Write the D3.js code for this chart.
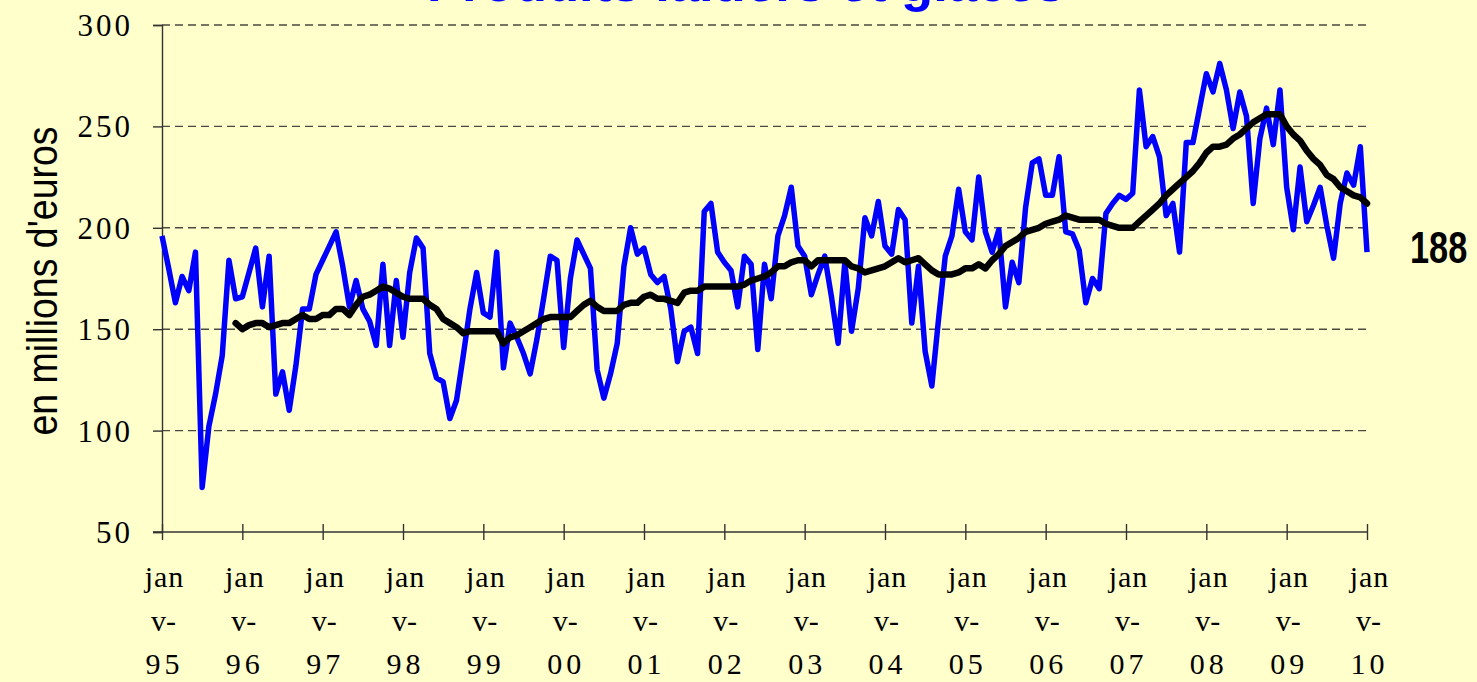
<!DOCTYPE html>
<html>
<head>
<meta charset="utf-8">
<script src="https://cdn.jsdelivr.net/npm/d3@7/dist/d3.min.js"></script>
<style>
  body { margin: 0; background: #FFFFCC; }
</style>
</head>
<body>
<div id="chart"></div>
<script>
// chart data
var title = "Produits laitiers et glaces";
var yLabel = "en millions d'euros";
var yTicks = [50, 100, 150, 200, 250, 300];
var yearLabels = ['95', '96', '97', '98', '99', '00', '01', '02', '03', '04', '05', '06', '07', '08', '09', '10'];
var monthLabel = ['jan', 'v-'];

// monthly values, janv-95 .. janv-10
var monthly = [
    196, 180, 163, 176, 169, 188, 72, 102, 118, 137, 184, 165,
    166, 178, 190, 161, 186, 118, 129, 110, 132, 160, 160, 177,
    184, 191, 198, 181, 161, 174, 160, 154, 142, 182, 142, 174,
    146, 178, 195, 190, 138, 126, 124, 106, 115, 137, 160, 178,
    158, 156, 188, 131, 153, 146, 138, 128, 145, 165, 186, 184,
    141, 175, 194, 187, 180, 130, 116, 128, 143, 181, 200, 187,
    190, 177, 173, 176, 160, 134, 149, 151, 138, 208, 212, 188,
    183, 179, 161, 186, 182, 140, 182, 165, 196, 206, 220, 191,
    186, 167, 177, 186, 166, 143, 183, 149, 170, 205, 196, 213,
    191, 187, 209, 204, 153, 181, 139, 122, 155, 186, 196, 219,
    198, 194, 225, 198, 188, 199, 161, 183, 173, 210, 232, 234,
    216, 216, 235, 198, 197, 189, 163, 175, 170, 207, 212, 216,
    214, 217, 268, 240, 245, 235, 206, 212, 188, 242, 242, 259,
    276, 267, 281, 268, 249, 267, 255, 212, 244, 259, 241, 268,
    220, 199, 230, 203, 211, 220, 201, 185, 212, 227, 221, 240,
    188
];

// 12 month average, starts at dec-95
var avgStart = 11;
var movingAvg = [
    153,
    150, 152, 153, 153, 151, 152, 153, 153, 155, 157, 155, 155,
    157, 157, 160, 160, 157, 162, 166, 167, 169, 171, 170, 168,
    166, 165, 165, 165, 162, 160, 155, 153, 151, 148, 149, 149,
    149, 149, 149, 143, 146, 147, 149, 151, 153, 155, 156, 156,
    156, 156, 159, 162, 164, 161, 159, 159, 159, 162, 163, 163,
    166, 167, 165, 165, 164, 163, 168, 169, 169, 171, 171, 171,
    171, 171, 171, 172, 174, 175, 176, 178, 181, 181, 183, 184,
    184, 181, 184, 184, 184, 184, 184, 181, 180, 178, 179, 180,
    181, 183, 185, 183, 184, 185, 182, 179, 177, 177, 177, 178,
    180, 180, 182, 180, 184, 187, 191, 193, 195, 198, 199, 200,
    202, 203, 204, 206, 205, 204, 204, 204, 204, 202, 201, 200,
    200, 200, 203, 206, 209, 212, 216, 219, 222, 225, 228, 232,
    237, 240, 240, 241, 244, 246, 249, 252, 254, 256, 256, 256,
    250, 246, 243, 238, 234, 231, 226, 224, 220, 218, 216, 215,
    212
];
var lastLabel = "188";

var width = 1477, height = 682;
var serif = "'Liberation Serif', 'Times New Roman', serif";
var sans = "'Liberation Sans', Arial, sans-serif";

var svg = d3.select('#chart').append('svg')
    .attr('width', width)
    .attr('height', height);

svg.append('rect')
    .attr('width', width)
    .attr('height', height)
    .attr('fill', '#FFFFCC');

var x = d3.scaleLinear().domain([0, monthly.length - 1]).range([162, 1367]);
var y = d3.scaleLinear().domain([50, 300]).range([532, 25]);

// title, mostly off the top of the picture (as in the original)
svg.append('text')
    .attr('x', 746)
    .attr('y', 1)
    .attr('text-anchor', 'middle')
    .attr('textLength', 638)
    .attr('lengthAdjust', 'spacingAndGlyphs')
    .style('font', 'bold 52px ' + sans)
    .attr('fill', '#0000FF')
    .text(title);

// dashed grid
svg.selectAll('.grid')
    .data(yTicks.filter(function(d) { return d > 50; }))
    .enter().append('line')
        .attr('class', 'grid')
        .attr('x1', x(0))
        .attr('x2', x(monthly.length - 1))
        .attr('y1', function(d) { return y(d); })
        .attr('y2', function(d) { return y(d); })
        .attr('stroke', '#4a4a40')
        .attr('stroke-width', 1.4)
        .attr('stroke-dasharray', '8,5');

// y axis
var yAxis = d3.axisLeft(y).tickValues(yTicks).tickSize(9).tickPadding(20);
var gy = svg.append('g')
    .attr('transform', 'translate(' + x(0) + ',0)')
    .call(yAxis);
gy.select('.domain').attr('stroke', '#333').attr('stroke-width', 1.4);
gy.selectAll('.tick line').attr('stroke', '#333').attr('stroke-width', 1.4);
gy.selectAll('.tick text')
    .attr('fill', '#000')
    .attr('dy', '0.34em')
    .attr('letter-spacing', 3)
    .style('font', '31px ' + serif);

// x axis, ticks cross the line
var xAxis = d3.axisBottom(x)
    .tickValues(d3.range(0, monthly.length, 12))
    .tickSize(8)
    .tickFormat('');
var gx = svg.append('g')
    .attr('transform', 'translate(0,' + y(50) + ')')
    .call(xAxis);
gx.select('.domain').attr('stroke', '#333').attr('stroke-width', 1.4).attr('d', 'M153,0H' + x(monthly.length - 1));
gx.selectAll('.tick line').attr('stroke', '#333').attr('stroke-width', 1.4).attr('y1', -8);

gx.selectAll('.tick').each(function(d, i) {
    var t = d3.select(this);
    var lines = [monthLabel[0], monthLabel[1], yearLabels[i]];
    var base = [55, 99, 142];
    var spacing = [1, 0, 4];
    lines.forEach(function(s, k) {
        t.append('text')
            .attr('x', k == 1 ? 1 : 2)
            .attr('y', base[k])
            .attr('text-anchor', 'middle')
            .attr('letter-spacing', spacing[k])
            .attr('fill', '#000')
            .style('font', '30px ' + serif)
            .text(s);
    });
});

// y label
svg.append('text')
    .attr('transform', 'translate(57,281) rotate(-90)')
    .attr('text-anchor', 'middle')
    .attr('textLength', 309)
    .attr('lengthAdjust', 'spacingAndGlyphs')
    .style('font', '42px ' + sans)
    .attr('fill', '#000')
    .text(yLabel);

// lines
var line = d3.line()
    .x(function(d) { return x(d.i); })
    .y(function(d) { return y(d.v); });

var blueData = monthly.map(function(v, i) { return {i: i, v: v}; });
var avgData = movingAvg.map(function(v, i) { return {i: i + avgStart, v: v}; });

svg.append('path')
    .datum(blueData)
    .attr('d', line)
    .attr('fill', 'none')
    .attr('stroke', '#0000FF')
    .attr('stroke-width', 5.5)
    .attr('stroke-linejoin', 'round');

svg.append('path')
    .datum(avgData)
    .attr('d', line)
    .attr('fill', 'none')
    .attr('stroke', '#000')
    .attr('stroke-width', 6.5)
    .attr('stroke-linejoin', 'round')
    .attr('stroke-linecap', 'round');

// last value label, narrow bold
svg.append('text')
    .attr('transform', 'translate(1410,263) scale(0.78,1)')
    .style('font', 'bold 44px ' + sans)
    .attr('fill', '#000')
    .text(lastLabel);
</script>
</body>
</html>
